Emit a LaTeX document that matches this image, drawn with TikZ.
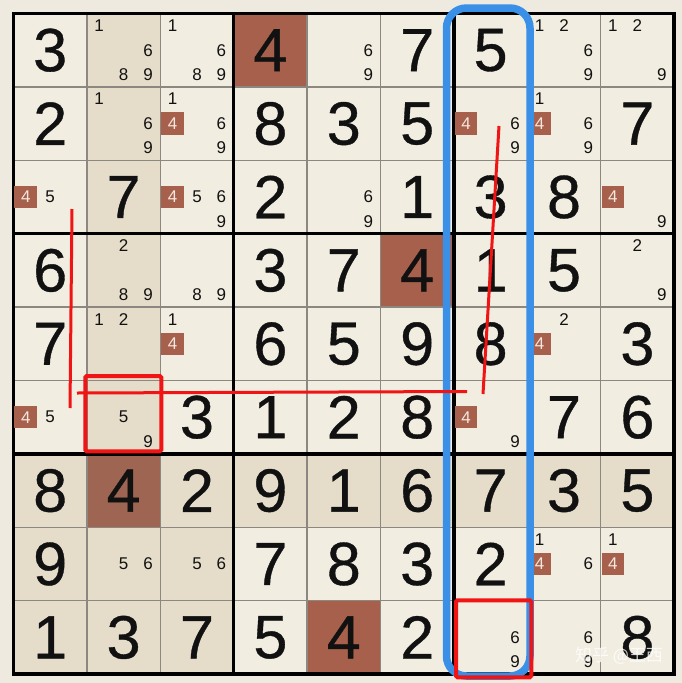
\documentclass[tikz,border=0pt]{standalone}
\usepackage{fontspec}
\setmainfont{Liberation Sans}
\newfontfamily\bigdfont[FakeBold=0.6]{Liberation Sans}
\newfontfamily\cjkwm{Noto Sans CJK SC}
\definecolor{bgout}{HTML}{EEEAE0}
\definecolor{creamc}{HTML}{F2EDE1}
\definecolor{hilite}{HTML}{E5DCCA}
\definecolor{brownc}{HTML}{A6604B}
\definecolor{selc}{HTML}{9E6552}
\definecolor{thinc}{HTML}{8C8881}
\definecolor{bluec}{HTML}{3A8FE6}
\definecolor{redc}{HTML}{F01414}
\definecolor{inkc}{HTML}{111111}
\definecolor{boxtxt}{HTML}{F4E8DF}
\def\gridO{13.5}
\def\cellS{73.4}
\newcommand\fillcell[3]{\fill[#3] ({\gridO+(#2-1)*\cellS},{\gridO+(#1-1)*\cellS}) rectangle ++(\cellS,\cellS);}
\newcommand\bigd[3]{\node[bigdigit] (g#1#2) at ({\gridO+(#2-0.5)*\cellS},{\gridO+(#1-0.5)*\cellS}) {#3};}
\newcommand\cand[3]{%
  \foreach \dd in {#3}{%
    \pgfmathsetmacro\cpx{\gridO+(#2-1)*\cellS+(mod(\dd-1,3)+0.5)*\cellS/3}%
    \pgfmathsetmacro\cpy{\gridO+(#1-1)*\cellS+(floor((\dd-1)/3)+0.5)*\cellS/3}%
    \ifnum\dd=4 \node[candbox] (p#1#2\dd) at (\cpx,\cpy) {\dd};%
    \else \node[cand] (p#1#2\dd) at (\cpx,\cpy) {\dd};\fi
  }}
\begin{document}
\begin{tikzpicture}[x=1pt,y=-1pt,
  bigdigit/.style={inner sep=0pt, text=inkc, font=\bigdfont\fontsize{61}{61}\selectfont},
  cand/.style={inner sep=0pt, text=inkc, font=\fontsize{17}{17}\selectfont},
  candbox/.style={fill=brownc, text=boxtxt, minimum size=22.5pt, inner sep=0pt, font=\fontsize{17}{17}\selectfont},
  thingrid/.style={thinc, line width=1.4pt},
  thickgrid/.style={black, line width=3.5pt},
  redmark/.style={redc, line width=3pt},
  redbox/.style={redc, line width=4pt, rounded corners=1.5pt},
  bluebox/.style={bluec, line width=7.5pt, rounded corners=20pt},
  watermark/.style={inner sep=0pt, text=white, opacity=0.8, font=\cjkwm\fontsize{17}{17}\selectfont}]
\useasboundingbox (0,0) rectangle (682,683);
\fill[bgout] (0,0) rectangle (682,683);
% cell backgrounds
\foreach \r in {1,...,9}{\foreach \c in {1,...,9}{\fillcell{\r}{\c}{creamc}}}
\foreach \r in {1,...,9}{\fillcell{\r}{2}{hilite}}
\foreach \c in {1,...,9}{\fillcell{7}{\c}{hilite}}
\foreach \r in {8,9}{\foreach \c in {1,2,3}{\fillcell{\r}{\c}{hilite}}}
\fillcell{1}{4}{brownc}
\fillcell{4}{6}{brownc}
\fillcell{9}{5}{brownc}
\fillcell{7}{2}{selc}
% grid
\foreach \i in {1,2,4,5,7,8}{
  \draw[thingrid] ({\gridO+\i*\cellS},\gridO) -- ({\gridO+\i*\cellS},{\gridO+9*\cellS});
  \draw[thingrid] (\gridO,{\gridO+\i*\cellS}) -- ({\gridO+9*\cellS},{\gridO+\i*\cellS});
}
\foreach \i in {3,6}{
  \draw[thickgrid] ({\gridO+\i*\cellS},\gridO) -- ({\gridO+\i*\cellS},{\gridO+9*\cellS});
  \draw[thickgrid] (\gridO,{\gridO+\i*\cellS}) -- ({\gridO+9*\cellS},{\gridO+\i*\cellS});
}
\draw[thickgrid] (\gridO,\gridO) rectangle ({\gridO+9*\cellS},{\gridO+9*\cellS});
% row 1
\bigd{1}{1}{3} \cand{1}{2}{1,6,8,9} \cand{1}{3}{1,6,8,9} \bigd{1}{4}{4} \cand{1}{5}{6,9} \bigd{1}{6}{7} \bigd{1}{7}{5} \cand{1}{8}{1,2,6,9} \cand{1}{9}{1,2,9}
% row 2
\bigd{2}{1}{2} \cand{2}{2}{1,6,9} \cand{2}{3}{1,4,6,9} \bigd{2}{4}{8} \bigd{2}{5}{3} \bigd{2}{6}{5} \cand{2}{7}{4,6,9} \cand{2}{8}{1,4,6,9} \bigd{2}{9}{7}
% row 3
\cand{3}{1}{4,5} \bigd{3}{2}{7} \cand{3}{3}{4,5,6,9} \bigd{3}{4}{2} \cand{3}{5}{6,9} \bigd{3}{6}{1} \bigd{3}{7}{3} \bigd{3}{8}{8} \cand{3}{9}{4,9}
% row 4
\bigd{4}{1}{6} \cand{4}{2}{2,8,9} \cand{4}{3}{8,9} \bigd{4}{4}{3} \bigd{4}{5}{7} \bigd{4}{6}{4} \bigd{4}{7}{1} \bigd{4}{8}{5} \cand{4}{9}{2,9}
% row 5
\bigd{5}{1}{7} \cand{5}{2}{1,2} \cand{5}{3}{1,4} \bigd{5}{4}{6} \bigd{5}{5}{5} \bigd{5}{6}{9} \bigd{5}{7}{8} \cand{5}{8}{2,4} \bigd{5}{9}{3}
% row 6
\cand{6}{1}{4,5} \cand{6}{2}{5,9} \bigd{6}{3}{3} \bigd{6}{4}{1} \bigd{6}{5}{2} \bigd{6}{6}{8} \cand{6}{7}{4,9} \bigd{6}{8}{7} \bigd{6}{9}{6}
% row 7
\bigd{7}{1}{8} \bigd{7}{2}{4} \bigd{7}{3}{2} \bigd{7}{4}{9} \bigd{7}{5}{1} \bigd{7}{6}{6} \bigd{7}{7}{7} \bigd{7}{8}{3} \bigd{7}{9}{5}
% row 8
\bigd{8}{1}{9} \cand{8}{2}{5,6} \cand{8}{3}{5,6} \bigd{8}{4}{7} \bigd{8}{5}{8} \bigd{8}{6}{3} \bigd{8}{7}{2} \cand{8}{8}{1,4,6} \cand{8}{9}{1,4}
% row 9
\bigd{9}{1}{1} \bigd{9}{2}{3} \bigd{9}{3}{7} \bigd{9}{4}{5} \bigd{9}{5}{4} \bigd{9}{6}{2} \cand{9}{7}{6,9} \cand{9}{8}{6,9} \bigd{9}{9}{8}
% annotations
\coordinate (bA) at (446.5,8);
\coordinate (bB) at (530,676);
\draw[bluebox] (bA) rectangle (bB);
\coordinate (rA) at (85.3,376);
\coordinate (rB) at (161.3,451.3);
\draw[redbox] (rA) rectangle (rB);
\coordinate (rC) at (456,600.3);
\coordinate (rD) at (531.3,677.3);
\draw[redbox] (rC) rectangle (rD);
\coordinate (v1) at (72,209);
\coordinate (v2) at (70,408);
\draw[redmark] (v1) -- (v2);
\coordinate (h1) at (77,393);
\coordinate (h2) at (467,391.5);
\draw[redmark] (h1) -- (h2);
\coordinate (s1) at (499,126);
\coordinate (s2) at (483,394);
\draw[redmark] (s1) -- (s2);
\node[watermark] (wm) at (619,656) {知乎 @王西};
\end{tikzpicture}
\end{document}
